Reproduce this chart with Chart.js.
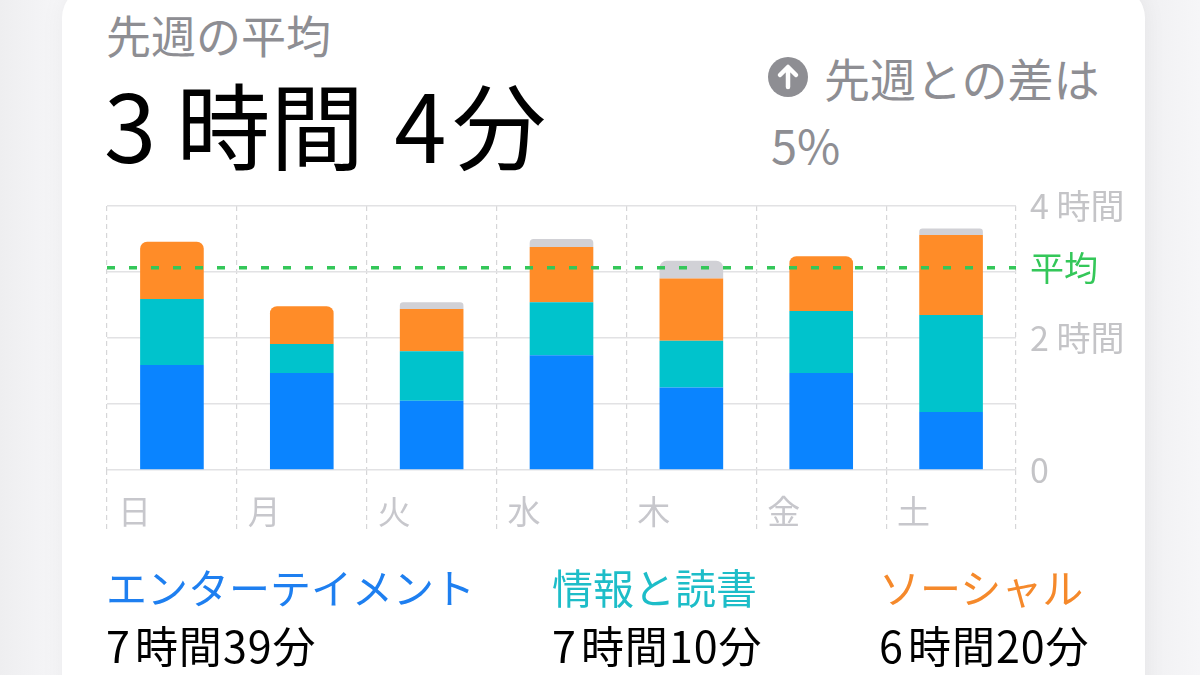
<!DOCTYPE html>
<html lang="ja">
<head>
<meta charset="utf-8">
<script src="https://cdn.jsdelivr.net/npm/chart.js@4.4.1/dist/chart.umd.min.js"></script>
<style>
  html, body { margin: 0; padding: 0; }
  body {
    width: 1200px; height: 675px; overflow: hidden; position: relative;
    background: linear-gradient(90deg, #eeeef0 0%, #f6f6f8 5%, #f0f0f2 95%, #f6f6f8 100%);
    font-family: "Noto Sans CJK JP", "Noto Sans", sans-serif;
  }
  .card {
    position: absolute; left: 62px; top: -14px; width: 1083px; height: 760px;
    background: #fff; border-radius: 32px; box-shadow: 0 0 24px rgba(0,0,0,0.05);
  }
  .t { position: absolute; white-space: nowrap; line-height: 1; }
  #chartBox { position: absolute; left: 0; top: 0; width: 1200px; height: 675px; }
  .icon {
    position: absolute; left: 768px; top: 57px; width: 40px; height: 40px;
    border-radius: 50%; background: #8e8e93;
  }
</style>
</head>
<body>
<div class="card"></div>

<div class="t" style="left:106px; top:12px; font-size:45px; color:#8e8e93;">先週の平均</div>
<div class="t" style="left:104px; top:75px; font-size:94px; color:#000;">3<span style="margin-left:20px">時間</span><span style="margin-left:30px">4</span><span style="margin-left:6px">分</span></div>

<div class="icon"><svg width="40" height="40" viewBox="0 0 40 40"><path d="M20 30 V11 M12 18 L20 10 L28 18" stroke="#fff" stroke-width="4.5" fill="none" stroke-linecap="round" stroke-linejoin="round"/></svg></div>
<div class="t" style="left:824px; top:54px; font-size:46px; color:#8e8e93;">先週との差は</div>
<div class="t" style="left:771px; top:120px; font-size:47px; color:#8e8e93;">5%</div>

<div id="chartBox"><canvas id="usageChart"></canvas></div>

<div class="t" style="left:106px; top:566px; font-size:41px; color:#1e7ff0;">エンターテイメント</div>
<div class="t" style="left:552px; top:566px; font-size:41px; color:#1dbdc8;">情報と読書</div>
<div class="t" style="left:879px; top:566px; font-size:41px; color:#f5892b;">ソーシャル</div>
<div class="t" style="left:106px; top:623px; font-size:43px; letter-spacing:1px; color:#000;">7<span style="margin-left:4px">時間</span>39分</div>
<div class="t" style="left:552px; top:623px; font-size:43px; letter-spacing:1px; color:#000;">7<span style="margin-left:4px">時間</span>10分</div>
<div class="t" style="left:879px; top:623px; font-size:43px; letter-spacing:1px; color:#000;">6<span style="margin-left:4px">時間</span>20分</div>

<script>
// hours per day (bottom to top)
const days = ['日', '月', '火', '水', '木', '金', '土'];
const entertainment = [1.59, 1.47, 1.05, 1.74, 1.25, 1.47, 0.88];
const information   = [1.00, 0.44, 0.75, 0.80, 0.71, 0.94, 1.47];
const social        = [0.87, 0.57, 0.64, 0.84, 0.94, 0.83, 1.21];
const other         = [0.00, 0.00, 0.10, 0.12, 0.27, 0.00, 0.10];

const avgHours = 3 + 4 / 60;   // 3時間4分
const avgLabel = '平均';
const yTickValues = [0, 1, 2, 3, 4];
const yTickLabels = ['0', '', '2 時間', '', '4 時間'];

const series = [entertainment, information, social, other];
const font = "'Noto Sans CJK JP', 'Noto Sans', sans-serif";

// only the top segment of each stack gets rounded corners
function topRadius(ctx) {
  const i = ctx.dataIndex;
  let top = -1;
  series.forEach((s, k) => { if (s[i] > 0) top = k; });
  return ctx.datasetIndex === top ? { topLeft: 7, topRight: 7, bottomLeft: 0, bottomRight: 0 } : 0;
}

function ds(label, data, color) {
  return {
    label: label, data: data, backgroundColor: color,
    borderWidth: 0, borderRadius: topRadius, borderSkipped: 'start',
    barPercentage: 0.49, categoryPercentage: 1
  };
}

var ctx = document.getElementById('usageChart').getContext('2d');
var usageChart = new Chart(ctx, {
  type: 'bar',
  data: {
    labels: days,
    datasets: [
      ds('エンターテイメント', entertainment, '#0a84ff'),
      ds('情報と読書', information, '#00c3cc'),
      ds('ソーシャル', social, '#ff8c28'),
      ds('その他', other, '#d1d1d6')
    ]
  },
  options: {
    responsive: true,
    maintainAspectRatio: false,
    animation: false,
    layout: { padding: { left: 107, top: 206, right: 74, bottom: 145 } },
    plugins: { legend: { display: false }, tooltip: { enabled: false } },
    scales: {
      x: {
        stacked: true,
        offset: true,
        grid: {
          offset: true, color: '#d6d6d8', lineWidth: 1.2,
          tickLength: 60, tickColor: '#d6d6d8', tickWidth: 1.2, tickBorderDash: [5, 4]
        },
        border: { display: false, dash: [5, 4] },
        ticks: {
          align: 'start', labelOffset: -54, padding: -38,
          color: '#c7c7cc', font: { family: font, size: 33 },
          maxRotation: 0, autoSkip: false
        },
        afterFit: function (s) { s.height = 60; }
      },
      y: {
        stacked: true,
        position: 'right',
        min: 0, max: 4,
        afterBuildTicks: function (s) {
          s.ticks = yTickValues.map(v => ({ value: v })).concat([{ value: avgHours }]);
        },
        grid: {
          drawTicks: false, lineWidth: 1.5,
          color: c => (c.tick && c.tick.value === avgHours) ? 'rgba(0,0,0,0)' : '#e2e2e4'
        },
        border: { display: false },
        ticks: {
          padding: 14,
          font: { family: font, size: 34 },
          color: c => (c.tick && c.tick.value === avgHours) ? '#34c759' : '#c4c4c7',
          callback: v => v === avgHours ? avgLabel : yTickLabels[yTickValues.indexOf(v)]
        },
        afterFit: function (s) { s.width = 110; }
      },
      avg: {
        position: 'right',
        min: 0, max: 4,
        afterBuildTicks: function (s) { s.ticks = [{ value: avgHours }]; },
        grid: { drawTicks: false, color: '#34c759', lineWidth: 3.5, z: 1 },
        border: { display: false, dash: [8, 14] },
        ticks: { display: false },
        afterFit: function (s) { s.width = 0; }
      }
    }
  }
});
</script>
</body>
</html>
